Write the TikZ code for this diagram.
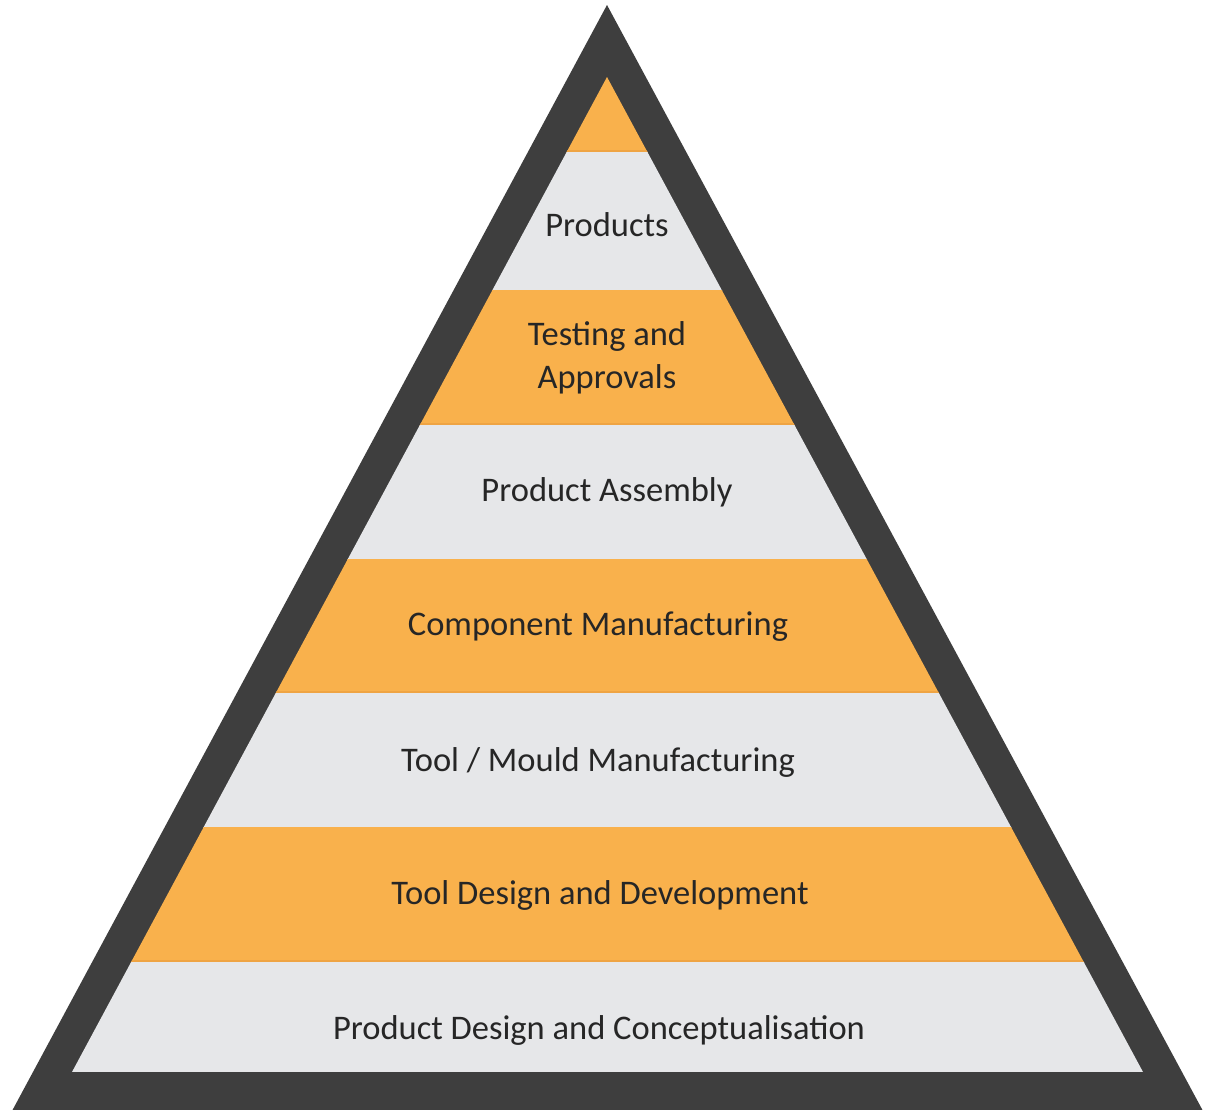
\documentclass[tikz,border=0pt]{standalone}
\usepackage{fontspec}
\setmainfont{Carlito}
\definecolor{frame}{HTML}{3E3E3E}
\definecolor{band}{HTML}{F9B14C}
\definecolor{bandline}{HTML}{EFA443}
\definecolor{pale}{HTML}{E6E7E9}
\definecolor{ink}{HTML}{262626}
\tikzset{lbl/.style={text=ink,font=\fontsize{34.5}{43}\selectfont,align=center,inner sep=0pt}}
\begin{document}
\begin{tikzpicture}[x=1pt,y=-1pt]
\useasboundingbox (0,0) rectangle (1213,1109);
\fill[white] (0,0) rectangle (1213,1109);
\fill[frame] (607,5) -- (12,1111) -- (1203,1111) -- cycle;
\begin{scope}
\clip (607,77) -- (72,1072) -- (1143,1072) -- cycle;
\fill[band] (0,70) rectangle (1213,153);
\fill[pale] (0,152) rectangle (1213,291);
\fill[band] (0,290) rectangle (1213,426);
\fill[pale] (0,425) rectangle (1213,560);
\fill[band] (0,559) rectangle (1213,694);
\fill[pale] (0,693) rectangle (1213,828);
\fill[band] (0,827) rectangle (1213,963);
\fill[pale] (0,962) rectangle (1213,1072);
\foreach \y in {151,424,692,961} \fill[bandline] (0,\y-1.5) rectangle (1213,\y+0.5);
\end{scope}
\node[lbl] (n1) at (607,225) {Products};
\node[lbl] (n2) at (607,358) {Testing and\\Approvals};
\node[lbl] (n3) at (607,492) {Product Assembly};
\node[lbl] (n4) at (598,627) {Component Manufacturing};
\node[lbl] (n5) at (598,762) {Tool / Mould Manufacturing};
\node[lbl] (n6) at (600,895) {Tool Design and Development};
\node[lbl] (n7) at (599,1030) {Product Design and Conceptualisation};
\end{tikzpicture}
\end{document}
